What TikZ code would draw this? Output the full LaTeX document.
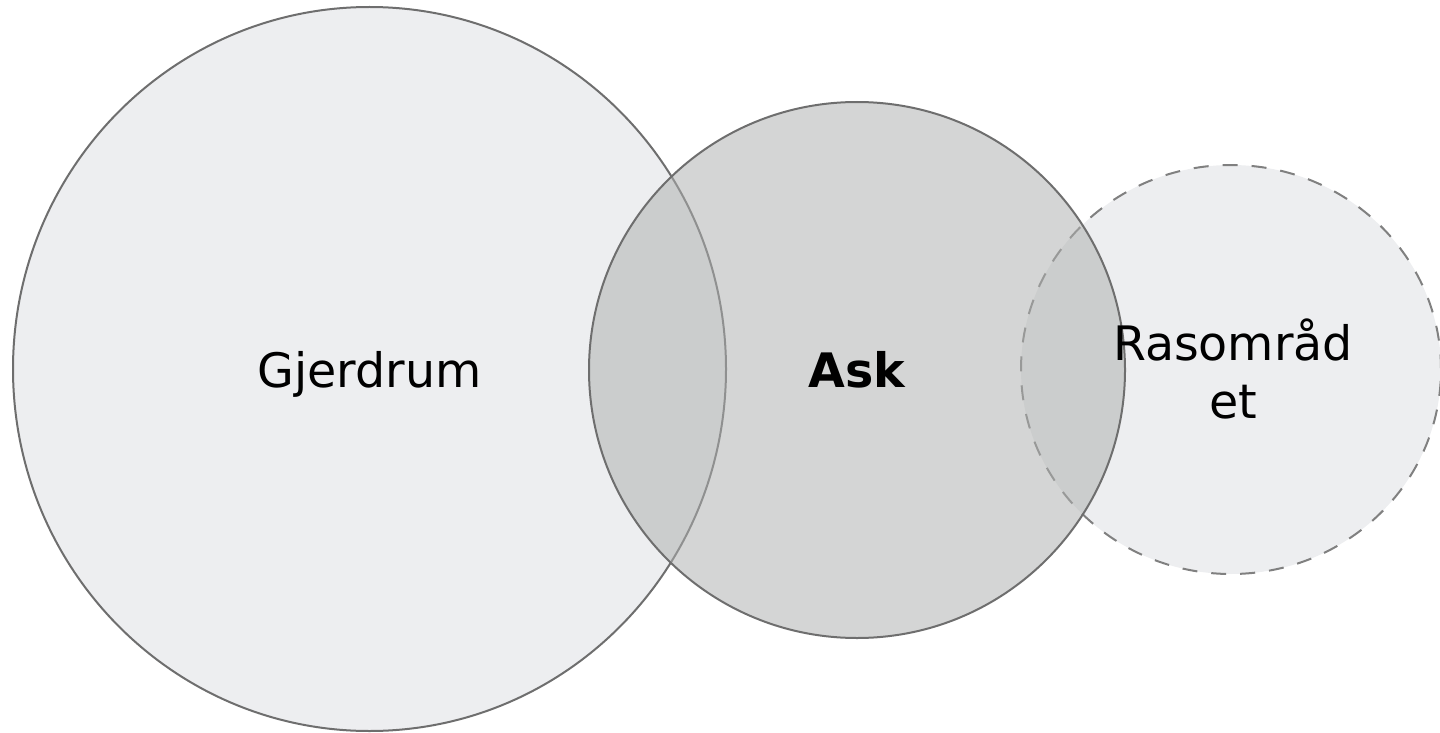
\documentclass[tikz,border=0pt]{standalone}
\usepackage{fontspec}
\setmainfont{DejaVu Sans}
\usetikzlibrary{shapes.geometric}
\definecolor{areafill}{RGB}{237,238,240}
\definecolor{areadraw}{RGB}{110,110,110}
\definecolor{dashdraw}{RGB}{128,128,128}
\definecolor{askfill}{RGB}{174,176,175}

\begin{document}
\begin{tikzpicture}
[x=1pt,y=-1pt,
	area/.style={ellipse,inner sep=0pt,line width=2pt,draw=areadraw,fill=areafill},
	lbl/.style={font=\fontsize{47.5}{58}\selectfont,align=center,inner sep=0pt}]
\useasboundingbox (0,0) rectangle (1440,733);

\node[area,minimum width=713pt,minimum height=724pt] (gjerdrum) at (369.5,369) {};
\node[area,draw=dashdraw,dash pattern=on 15pt off 14pt,minimum width=420pt,minimum height=409pt] (rasomr) at (1231,369.5) {};
\node[area,fill=askfill,fill opacity=0.53,minimum width=536pt,minimum height=536pt] (ask) at (857,370) {};

\node[lbl,anchor=base] (gjerdrumlbl) at (369.5,387) {Gjerdrum};
\node[lbl,anchor=base,font=\fontsize{47.5}{58}\selectfont\bfseries] (asklbl) at (857,387) {Ask};
\node[lbl] (rasomrlbl) at (1233,369) {Rasområd\\et};
\end{tikzpicture}
\end{document}
